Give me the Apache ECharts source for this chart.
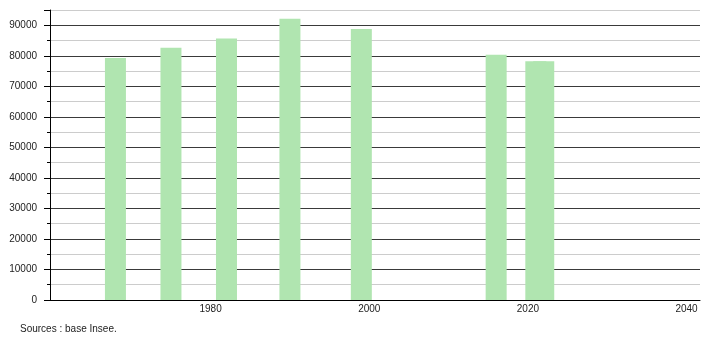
<!DOCTYPE html>
<html>
<head>
<meta charset="utf-8">
<script src="https://cdn.jsdelivr.net/npm/echarts@6/dist/echarts.min.js"></script>
<style>
html,body{margin:0;padding:0;background:#fff;}
#chart{width:710px;height:340px;}
</style>
</head>
<body>
<div id="chart"></div>
<script>
// Data
const years = [1968, 1975, 1982, 1990, 1999, 2016, 2021, 2022];
const population = [79300, 82600, 85700, 92100, 88800, 80300, 78200, 78200];
const xTickLabels = [1980, 2000, 2020, 2040];
const yTickLabels = [0, 10000, 20000, 30000, 40000, 50000, 60000, 70000, 80000, 90000];
const sourceText = 'Sources : base Insee.';

const seriesData = years.map((y, i) => [y, population[i]]);
const font = '"Liberation Sans", Arial, sans-serif';

const chart = echarts.init(document.getElementById('chart'), null, {renderer: 'canvas'});
chart.setOption({
  animation: false,
  backgroundColor: '#ffffff',
  grid: {left: 50, right: 10, top: 10, bottom: 40, containLabel: false},
  xAxis: {
    type: 'value',
    min: 1959.75,
    max: 2041.7,
    axisLine: {show: true, onZero: false, lineStyle: {color: '#000', width: 1}},
    axisTick: {show: false},
    splitLine: {show: false},
    axisLabel: {
      margin: 4,
      fontFamily: font,
      fontSize: 10,
      color: '#222',
      customValues: xTickLabels,
      formatter: v => String(v)
    }
  },
  yAxis: [{
    type: 'value',
    min: 0,
    max: 95000,
    interval: 5000,
    axisLine: {show: true, lineStyle: {color: '#000', width: 1}},
    axisTick: {show: true, length: 3, lineStyle: {color: '#000'}},
    splitLine: {show: true, lineStyle: {color: ['#3a3a3a', '#cccccc'], width: 1}},
    axisLabel: {
      margin: 13,
      fontFamily: font,
      fontSize: 10,
      color: '#222',
      formatter: v => yTickLabels.indexOf(v) >= 0 ? String(v) : ''
    }
  }, {
    type: 'value',
    position: 'left',
    min: 0,
    max: 95000,
    interval: 10000,
    axisLine: {show: false},
    axisTick: {show: true, length: 6, lineStyle: {color: '#000'}},
    splitLine: {show: false},
    axisLabel: {show: false}
  }],
  series: [{
    type: 'bar',
    yAxisIndex: 0,
    data: seriesData,
    barWidth: 21,
    itemStyle: {color: '#b0e5b0'},
    z: 3
  }],
  graphic: [{
    type: 'text',
    left: 20,
    top: 324,
    style: {text: sourceText, fontFamily: font, fontSize: 10, fill: '#222'}
  }]
});
</script>
</body>
</html>
